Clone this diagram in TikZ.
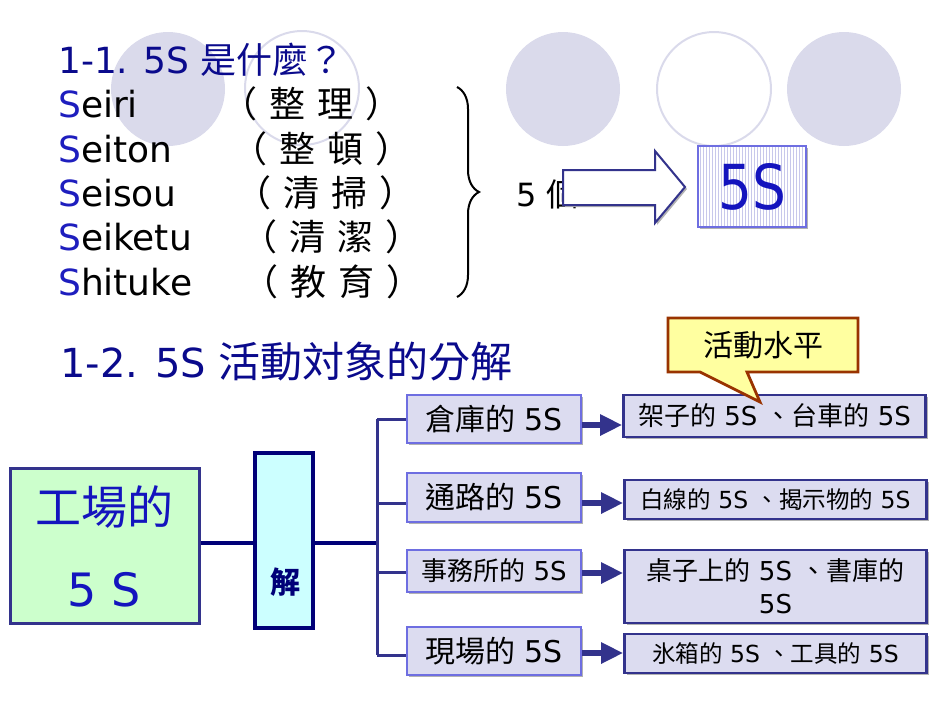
\documentclass[tikz,border=0pt]{standalone}
\usepackage{fontspec}
\setmainfont{DejaVu Sans}
\newfontfamily\cjk{Noto Sans CJK TC}
\usetikzlibrary{arrows.meta,shadows,decorations.pathreplacing,calc}
\definecolor{titleblue}{RGB}{10,10,140}
\definecolor{sblue}{RGB}{30,30,190}
\definecolor{bigblue}{RGB}{20,20,190}
\definecolor{circ}{RGB}{218,218,235}
\definecolor{midfill}{RGB}{220,220,240}
\definecolor{midborder}{RGB}{110,110,225}
\definecolor{navy}{RGB}{51,51,140}
\definecolor{gfill}{RGB}{204,255,204}
\definecolor{cfill}{RGB}{204,255,255}
\definecolor{dnavy}{RGB}{0,0,120}
\definecolor{yfill}{RGB}{255,255,160}
\definecolor{brown}{RGB}{153,51,0}
\definecolor{stripe}{RGB}{200,200,235}
\newcommand\fsz[1]{\fontsize{#1}{#1}\selectfont}
\newcommand\paren[2]{（\hspace{12pt}#1\hspace{12pt}#2\hspace{12pt}）}
\tikzset{
  shad/.style={drop shadow={shadow xshift=2pt,shadow yshift=-2pt,fill=black!30,opacity=1}},
  midbox/.style={draw=midborder,line width=2.6pt,fill=midfill,inner sep=0pt,minimum width=174pt,shad,font=\fsz{30}},
  rbox/.style={draw=navy,line width=2.6pt,fill=midfill,inner sep=0pt,minimum width=302pt,shad,font=\fsz{26},align=center},
  conn/.style={draw=navy,line width=3pt},
  arr/.style={draw=navy,line width=6pt,-{Triangle[length=22pt,width=20pt]}},
  circfill/.style={fill=circ},
  circline/.style={draw=circ,line width=2pt},
  listtxt/.style={anchor=base west,inner sep=0pt,font=\fsz{36}},
  partxt/.style={anchor=base west,inner sep=0pt,font=\fsz{36}\cjk},
}
\begin{document}
\begin{tikzpicture}[x=1pt,y=-1pt]
\useasboundingbox (0,0) rectangle (950,713);
% background circles
\fill[circfill] (168,89) circle (57);
\draw[circline] (302,88) circle (57);
\fill[circfill] (563,89) circle (57);
\draw[circline] (714,89) circle (57);
\fill[circfill] (844,89) circle (57);

% title 1-1
\node[anchor=base west,inner sep=0pt,font=\fsz{36},text=titleblue] (t1) at (58,73) {1-1. 5S {\cjk 是什麼？}};
% list
\node[listtxt] (s1) at (58,117) {\textcolor{sblue}{S}eiri};
\node[listtxt] (s2) at (58,162) {\textcolor{sblue}{S}eiton};
\node[listtxt] (s3) at (58,206) {\textcolor{sblue}{S}eisou};
\node[listtxt] (s4) at (58,250) {\textcolor{sblue}{S}eiketu};
\node[listtxt] (s5) at (58,295) {\textcolor{sblue}{S}hituke};
\node[partxt] (p1) at (221,117) {\paren{整}{理}};
\node[partxt] (p2) at (231,162) {\paren{整}{頓}};
\node[partxt] (p3) at (235,206) {\paren{清}{掃}};
\node[partxt] (p4) at (241,250) {\paren{清}{潔}};
\node[partxt] (p5) at (242,295) {\paren{教}{育}};
% brace
\coordinate (bt) at (457,87);
\coordinate (bb) at (457,297);
\draw[line width=2pt,decorate,decoration={brace,amplitude=22pt,aspect=0.5}] (bt) -- (bb);
% 5 個
\node[anchor=base west,inner sep=0pt,font=\fsz{32}] (five) at (516,206) {5 {\cjk 個}};
% block arrow
\draw[navy,line width=2pt,fill=white,shad] (563,170) -- (655,170) -- (655,151) -- (685,187) -- (655,223) -- (655,205) -- (563,205) -- cycle;
% 5S box
\node[minimum width=108pt,minimum height=81pt,inner sep=0pt,fill=white,shad] (ss) at (752,186.5) {};
\foreach \i in {0,...,35} { \draw[stripe,line width=0.8pt] (700+3*\i,147) -- (700+3*\i,226); }
\node[draw=midborder,line width=2.6pt,minimum width=108pt,minimum height=81pt,inner sep=0pt,font=\fsz{62},text=bigblue] (ssl) at (752,186.5) {\scalebox{0.86}[1]{5S}};

% title 1-2
\node[anchor=base west,inner sep=0pt,font=\fsz{40},text=titleblue] (t2) at (60,377) {1-2. 5S {\fsz{42}\cjk 活動対象的分解}};

% left boxes
\node[draw=navy,line width=3pt,fill=gfill,minimum width=189pt,minimum height=155pt,inner sep=0pt,shad] (g) at (104.5,545.5) {};
\node[font=\fsz{46}\cjk,text=bigblue,inner sep=0pt] (g1) at (104.5,507) {工場的};
\node[font=\fsz{46},text=bigblue,inner sep=0pt] (g2) at (104.5,590) {5 S};
\node[draw=dnavy,line width=4pt,fill=cfill,minimum width=58pt,minimum height=175pt,inner sep=0pt,shad] (j) at (284,540.5) {};
\node[font=\fsz{30}\cjk\bfseries,text=dnavy,inner sep=0pt] (j1) at (285,582) {解};
\coordinate (bus) at (377,543);
\draw[draw=dnavy,line width=3.5pt] (g.east |- bus) -- (j.west |- bus);
\draw[draw=dnavy,line width=3.5pt] (j.east |- bus) -- (bus);

% middle boxes
\node[midbox,minimum height=48pt] (m1) at (494,419) {{\cjk 倉庫的} 5S};
\node[midbox,minimum height=49pt] (m2) at (494,497.5) {{\cjk 通路的} 5S};
\node[midbox,minimum height=42pt,font=\fsz{26}] (m3) at (494,571) {{\cjk 事務所的} 5S};
\node[midbox,minimum height=48pt] (m4) at (494,651) {{\cjk 現場的} 5S};
% bracket
\coordinate (bt2) at (377,419);
\coordinate (bb2) at (377,655);
\draw[conn] (bt2) -- (bb2);
\draw[conn] (bt2) -- (m1.west |- bt2);
\draw[conn] (377,503) -- ([yshift=-5.5pt]m2.west);
\draw[conn] (377,572) -- ([yshift=-1pt]m3.west);
\draw[conn] (bb2) -- ([yshift=-4pt]m4.west);

% right boxes
\node[rbox,minimum height=42pt] (r1) at (774.5,416) {{\cjk 架子的} 5S {\cjk 、台車的} 5S};
\node[rbox,minimum height=39pt,font=\fsz{23.5}] (r2) at (775.5,499.5) {{\cjk 白線的} 5S {\cjk 、揭示物的} 5S};
\node[rbox,minimum height=73pt,font=\fontsize{26}{33}\selectfont] (r3) at (775.5,586.5) {{\cjk 桌子上的} 5S {\cjk 、書庫的}\\5S};
\node[rbox,minimum height=39pt,font=\fsz{23.5}] (r4) at (775.5,653.5) {{\cjk 氷箱的} 5S {\cjk 、工具的} 5S};

% arrows
\draw[arr] ([yshift=-6pt]m1.east) -- ([yshift=-6pt]m1.east -| r1.west);
\draw[arr] ([yshift=-5.5pt]m2.east) -- ([yshift=-5.5pt]m2.east -| r2.west);
\draw[arr] ([yshift=-2pt]m3.east) -- ([yshift=-2pt]m3.east -| r3.west);
\draw[arr] ([yshift=-2pt]m4.east) -- ([yshift=-2pt]m4.east -| r4.west);

% callout
\draw[draw=brown,line width=2.8pt,fill=yfill,line join=miter] (668,318) -- (858,318) -- (858,372) -- (747,372) -- (760,402) -- (700,372) -- (668,372) -- cycle;
\node[font=\fsz{30}\cjk,inner sep=0pt] (cl) at (763,345) {活動水平};
\end{tikzpicture}
\end{document}
